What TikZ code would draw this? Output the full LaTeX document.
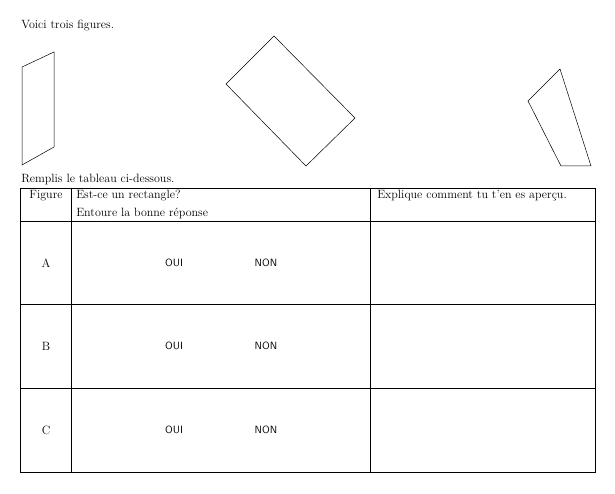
\documentclass[tikz,border=0pt]{standalone}
\begin{document}
\begin{tikzpicture}[x=1pt,y=-1pt,line width=0.5pt,
  txt/.style={inner sep=0pt,font=\fontsize{12}{14}\selectfont},
  sf/.style={inner sep=0pt,font=\sffamily\fontsize{10.5}{12}\selectfont}]
\useasboundingbox (0,0) rectangle (615,494);
\node[txt,anchor=west] (t1) at (21,26) {Voici trois figures.};
\draw (22,67) -- (54,52) -- (54,147) -- (22,165) -- cycle;
\draw (274,36) -- (355,118) -- (306,166) -- (226,84) -- cycle;
\draw (560,69) -- (591,166) -- (561,166) -- (528,101) -- cycle;
\node[txt,anchor=west] (t2) at (21,180) {Remplis le tableau ci-dessous.};
\draw (20,188) rectangle (595,472);
\foreach \y in {221,304,388} \draw (20,\y) -- (595,\y);
\foreach \x in {71,370} \draw (\x,188) -- (\x,472);
\node[txt] (h1) at (46,196) {Figure};
\node[txt,anchor=west] (h2) at (76,196) {Est-ce un rectangle?};
\node[txt,anchor=west] (h3) at (76,213) {Entoure la bonne réponse};
\node[txt,anchor=west] (h4) at (377,196) {Explique comment tu t'en es aperçu.};
\foreach \l/\y in {A/263,B/346,C/430}{
  \node[txt] (r\l) at (46,\y) {\l};
  \node[sf] (o\l) at (174,\y) {OUI};
  \node[sf] (n\l) at (266,\y) {NON};
}
\end{tikzpicture}
\end{document}
